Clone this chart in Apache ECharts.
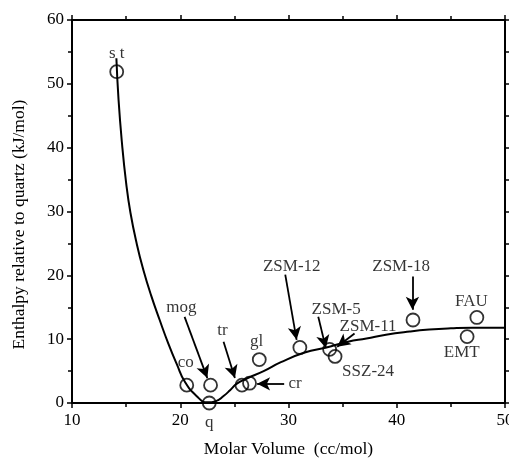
<!DOCTYPE html>
<html>
<head>
<meta charset="utf-8">
<script src="https://cdn.jsdelivr.net/npm/echarts@6/dist/echarts.min.js"></script>
<style>html,body{margin:0;padding:0;background:#fff}#c{width:509px;height:459px}</style>
</head>
<body>
<div id="c"></div>
<script>
// Measured phases
const pointNames = ['st','co','mog','q','tr','cr','gl','ZSM-12','ZSM-5','SSZ-24','ZSM-18','FAU','EMT'];
const pointX = [14.13, 20.6, 22.8, 22.68, 25.7, 26.4, 27.3, 31.05, 33.8, 34.3, 41.5, 47.4, 46.5];
const pointY = [51.9, 2.8, 2.8, 0.0, 2.8, 3.1, 6.8, 8.7, 8.4, 7.3, 13.0, 13.4, 10.4];

// Fitted curve
const curveX = [14.1, 14.3, 14.6, 15.0, 15.4, 16.0, 16.6, 17.3, 18.1, 18.9, 19.7, 20.4, 21.5, 22.5, 23.3, 24.0, 24.6, 25.2, 26.1, 27.7, 29.3, 31.5, 33.5, 35.5, 37.2, 39.0, 41.2, 43.0, 45.0, 47.0, 50.0];
const curveY = [54.0, 47.5, 41.0, 34.5, 29.8, 24.8, 20.8, 16.9, 13.0, 9.3, 6.0, 3.4, 1.1, 0.1, 0.3, 1.1, 2.0, 3.0, 3.8, 5.0, 6.4, 7.9, 8.7, 9.6, 10.1, 10.7, 11.2, 11.5, 11.7, 11.8, 11.8];

// Annotation labels
const labelText = ['s t','co','mog','tr','gl','cr','ZSM-12','ZSM-5','ZSM-11','SSZ-24','ZSM-18','FAU','EMT'];
const labelX = [14.13, 20.5, 20.1, 23.9, 27.05, 30.6, 30.3, 34.4, 37.35, 37.35, 40.4, 46.9, 46.0];
const labelY = [54.8, 6.3, 15.0, 11.4, 9.6, 3.0, 21.4, 14.6, 12.0, 4.9, 21.4, 15.9, 7.9];

// Arrows
const arrowFromX = [20.4, 24.0, 29.6, 29.7, 32.75, 36.1, 41.45];
const arrowFromY = [13.5, 9.6, 3.0, 20.1, 13.5, 10.9, 19.8];
const arrowToX = [22.5, 25.05, 27.1, 30.75, 33.45, 34.5, 41.45];
const arrowToY = [3.9, 3.9, 3.0, 9.9, 8.6, 8.8, 14.6];

// Axis ticks
const xTicks = [10, 20, 30, 40, 50];
const yTicks = [0, 10, 20, 30, 40, 50, 60];

const font = 'Liberation Serif';
const chart = echarts.init(document.getElementById('c'));

const axisCommon = {
  axisLine: {show: true, onZero: false, lineStyle: {color: '#000', width: 2}},
  axisTick: {show: true, inside: false, length: 5, lineStyle: {color: '#000', width: 1.5}},
  minorTick: {show: true, splitNumber: 2, length: 4, lineStyle: {color: '#000', width: 1.5}},
  splitLine: {show: false},
  minorSplitLine: {show: false}
};

chart.setOption({
  backgroundColor: '#fff',
  animation: false,
  grid: {left: 72, right: 4, top: 20, bottom: 56, containLabel: false, outerBoundsMode: 'none'},
  xAxis: [
    Object.assign({}, axisCommon, {
      type: 'value', min: xTicks[0], max: xTicks[xTicks.length - 1], interval: 10,
      position: 'bottom',
      name: 'Molar Volume  (cc/mol)', nameLocation: 'middle', nameGap: 37,
      nameTextStyle: {fontFamily: font, fontSize: 17.5, color: '#000'},
      axisLabel: {fontFamily: font, fontSize: 17, color: '#000', margin: 9, showMaxLabel: true}
    }),
    Object.assign({}, axisCommon, {
      type: 'value', min: xTicks[0], max: xTicks[xTicks.length - 1], interval: 10,
      position: 'top', axisLabel: {show: false}
    })
  ],
  yAxis: [
    Object.assign({}, axisCommon, {
      type: 'value', min: yTicks[0], max: yTicks[yTicks.length - 1], interval: 10,
      position: 'left',
      name: 'Enthalpy relative to quartz (kJ/mol)', nameLocation: 'middle', nameGap: 44, nameRotate: 90,
      nameTextStyle: {fontFamily: font, fontSize: 17.5, color: '#000', padding: [0, 26, 0, 0]},
      axisLabel: {fontFamily: font, fontSize: 17, color: '#000', margin: 8}
    }),
    Object.assign({}, axisCommon, {
      type: 'value', min: yTicks[0], max: yTicks[yTicks.length - 1], interval: 10,
      position: 'right', axisLabel: {show: false}
    })
  ],
  series: [
    {
      type: 'line', xAxisIndex: 0, yAxisIndex: 0,
      data: curveX.map((x, i) => [x, curveY[i]]),
      smooth: 0.5, showSymbol: false, symbol: 'none',
      lineStyle: {color: '#000', width: 2},
      z: 2
    },
    {
      type: 'scatter', xAxisIndex: 0, yAxisIndex: 0,
      data: pointX.map((x, i) => ({name: pointNames[i], value: [x, pointY[i]]})),
      symbol: 'circle', symbolSize: 13, clip: false,
      itemStyle: {color: 'rgba(255,255,255,0)', borderColor: '#000', borderWidth: 1.8},
      label: {
        show: true, position: 'bottom', distance: 4,
        formatter: p => p.name === 'q' ? 'q' : '',
        fontFamily: font, fontSize: 17, color: '#000'
      },
      z: 3
    },
    {
      type: 'scatter', xAxisIndex: 0, yAxisIndex: 0,
      data: labelX.map((x, i) => ({name: labelText[i], value: [x, labelY[i]]})),
      symbolSize: 0, clip: false, silent: true,
      label: {
        show: true, position: 'inside', formatter: p => p.name,
        fontFamily: font, fontSize: 17, color: '#000', align: 'center', verticalAlign: 'middle'
      },
      markLine: {
        silent: true, animation: false,
        symbol: ['none', 'arrow'], symbolSize: [10, 13],
        lineStyle: {color: '#000', width: 1.8, type: 'solid'},
        label: {show: false},
        data: arrowFromX.map((x, i) => [
          {coord: [x, arrowFromY[i]]},
          {coord: [arrowToX[i], arrowToY[i]]}
        ])
      },
      z: 4
    }
  ]
});
</script>
</body>
</html>
